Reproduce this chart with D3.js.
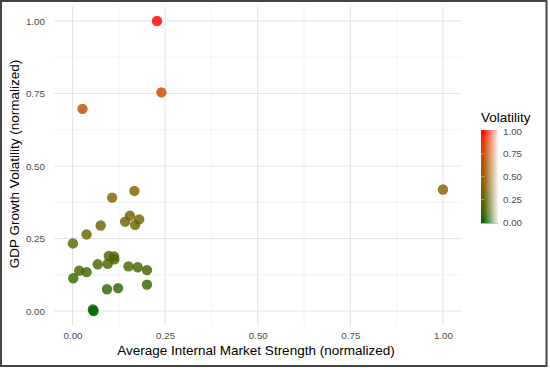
<!DOCTYPE html>
<html>
<head>
<meta charset="utf-8">
<script src="https://cdn.jsdelivr.net/npm/d3@7"></script>
<style>
  body { margin: 0; background: #fff; }
  text { font-family: "Liberation Sans", Arial, sans-serif; }
</style>
</head>
<body>
<div id="chart"></div>
<script>
// market strength (x) and GDP growth volatility (y), both normalized; colour = volatility
const marketStrength = [0.228, 0.240, 0.027, 1.000, 0.107, 0.167, 0.155, 0.142, 0.180, 0.169,
  0.076, 0.038, 0.001, 0.098, 0.112, 0.113, 0.068, 0.095, 0.151, 0.176,
  0.201, 0.018, 0.038, 0.002, 0.093, 0.123, 0.201, 0.055, 0.057];
const volatility = [1.000, 0.754, 0.697, 0.419, 0.391, 0.414, 0.329, 0.308, 0.316, 0.297,
  0.295, 0.264, 0.233, 0.190, 0.188, 0.178, 0.161, 0.163, 0.154, 0.151,
  0.141, 0.139, 0.134, 0.113, 0.075, 0.079, 0.091, 0.005, 0.000];
const tickValues = [0, 0.25, 0.5, 0.75, 1];
const minorValues = [0.125, 0.375, 0.625, 0.875];

const data = marketStrength.map((d, i) => ({ x: d, y: volatility[i] }));

const width = 550;
const height = 370;
const x = d3.scaleLinear().domain([-0.05, 1.05]).range([54, 461.5]);
const y = d3.scaleLinear().domain([-0.05, 1.05]).range([325.5, 6.5]);
const color = d3.scaleLinear().domain([0, 1]).range(['darkgreen', 'red']).interpolate(d3.interpolateLab);

const svg = d3.select('#chart').append('svg').attr('width', width).attr('height', height);

// grid
const grid = svg.append('g');
grid.selectAll('.minor-x').data(minorValues).enter().append('line')
  .attr('x1', d => x(d)).attr('x2', d => x(d)).attr('y1', y.range()[0]).attr('y2', y.range()[1])
  .style('stroke', '#eeeeee').style('stroke-width', 0.7);
grid.selectAll('.minor-y').data(minorValues).enter().append('line')
  .attr('y1', d => y(d)).attr('y2', d => y(d)).attr('x1', x.range()[0]).attr('x2', x.range()[1])
  .style('stroke', '#eeeeee').style('stroke-width', 0.7);
grid.selectAll('.major-x').data(tickValues).enter().append('line')
  .attr('x1', d => x(d)).attr('x2', d => x(d)).attr('y1', y.range()[0]).attr('y2', y.range()[1])
  .style('stroke', '#e4e4e4').style('stroke-width', 1.1);
grid.selectAll('.major-y').data(tickValues).enter().append('line')
  .attr('y1', d => y(d)).attr('y2', d => y(d)).attr('x1', x.range()[0]).attr('x2', x.range()[1])
  .style('stroke', '#e4e4e4').style('stroke-width', 1.1);

// axes (labels only)
const xAxis = svg.append('g').attr('transform', `translate(0, ${y.range()[0] - 1})`)
  .call(d3.axisBottom(x).tickValues(tickValues).tickFormat(d3.format('.2f')).tickSize(0).tickPadding(8));
const yAxis = svg.append('g').attr('transform', `translate(${x.range()[0] - 1}, 0)`)
  .call(d3.axisLeft(y).tickValues(tickValues).tickFormat(d3.format('.2f')).tickSize(0).tickPadding(8));
[xAxis, yAxis].forEach(a => {
  a.select('.domain').remove();
  a.selectAll('text').style('font-size', '9.8px').style('fill', '#4d4d4d')
    .style('font-family', '"Liberation Sans", Arial, sans-serif');
});

// points
svg.append('g').selectAll('circle').data(data).enter().append('circle')
  .attr('cx', d => x(d.x)).attr('cy', d => y(d.y)).attr('r', 5.2)
  .style('fill', d => color(d.y)).style('fill-opacity', 0.82);

// axis titles
svg.append('text').text('Average Internal Market Strength (normalized)')
  .attr('x', 256).attr('y', 355).style('text-anchor', 'middle')
  .style('font-size', '13.5px').style('fill', '#000');
svg.append('text').text('GDP Growth Volatility (normalized)')
  .attr('transform', `translate(19, 164) rotate(-90)`).style('text-anchor', 'middle')
  .style('font-size', '13.5px').style('fill', '#000');

// legend
const legendY = d3.scaleLinear().domain([0, 1]).range([222.5, 131]);
const defs = svg.append('defs');
const grad = defs.append('linearGradient').attr('id', 'vol-grad')
  .attr('x1', 0).attr('x2', 0).attr('y1', 1).attr('y2', 0);
grad.selectAll('stop').data(d3.range(0, 1.01, 0.1)).enter().append('stop')
  .attr('offset', d => d).attr('stop-color', d => color(d));
const fade = defs.append('linearGradient').attr('id', 'vol-fade')
  .attr('x1', 0).attr('x2', 1).attr('y1', 0).attr('y2', 0);
fade.append('stop').attr('offset', 0.15).attr('stop-color', '#fff').attr('stop-opacity', 0);
fade.append('stop').attr('offset', 1).attr('stop-color', '#fff').attr('stop-opacity', 0.95);

const legend = svg.append('g');
const barX = 481;
const barW = 17;
legend.append('text').text('Volatility').attr('x', barX).attr('y', 121.5)
  .style('font-size', '13.5px').style('fill', '#000');
legend.append('rect').attr('x', barX).attr('y', legendY(1.01)).attr('width', barW)
  .attr('height', legendY(-0.01) - legendY(1.01)).style('fill', 'url(#vol-grad)');
legend.append('rect').attr('x', barX).attr('y', legendY(1.01)).attr('width', barW)
  .attr('height', legendY(-0.01) - legendY(1.01)).style('fill', 'url(#vol-fade)');
legend.selectAll('.tick-l').data(tickValues.slice(1, 4)).enter().append('line')
  .attr('x1', barX).attr('x2', barX + 3.4).attr('y1', d => legendY(d)).attr('y2', d => legendY(d))
  .style('stroke', '#fff').style('stroke-opacity', 0.6).style('stroke-width', 0.8);
legend.selectAll('.lab').data(tickValues).enter().append('text')
  .text(d3.format('.2f')).attr('x', 503).attr('y', d => legendY(d) + 3.5)
  .style('font-size', '9.8px').style('fill', '#4d4d4d');

// frame around the figure
svg.append('rect').attr('x', 1).attr('y', 1).attr('width', 545.5).attr('height', 365)
  .style('fill', 'none').style('stroke', '#444').style('stroke-width', 2);
</script>
</body>
</html>
